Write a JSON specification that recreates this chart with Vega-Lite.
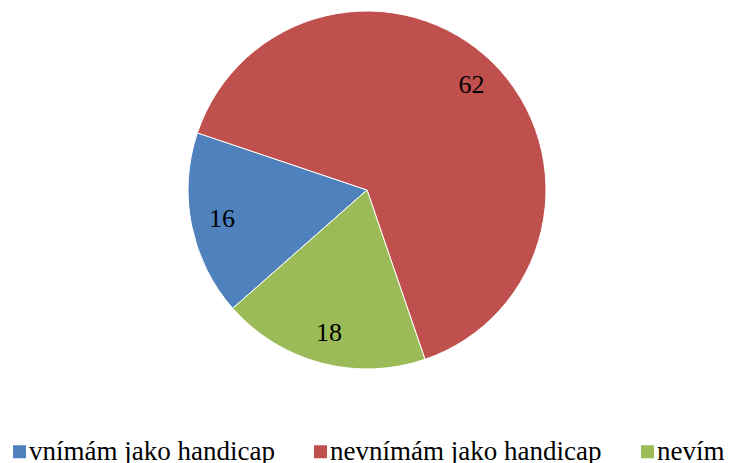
{
  "$schema": "https://vega.github.io/schema/vega-lite/v6.json",
  "width": 734,
  "height": 380,
  "autosize": "none",
  "padding": {"left": 0, "top": 0, "right": 0, "bottom": 83},
  "background": "white",
  "config": {"font": "Liberation Serif", "legend": {"labelFont": "Liberation Serif"}},
  "view": {"stroke": null},
  "data": {
    "values": [
      {"category": "vnímám jako handicap", "value": 16, "order": 1},
      {"category": "nevnímám jako handicap", "value": 62, "order": 2},
      {"category": "nevím", "value": 18, "order": 3}
    ]
  },
  "encoding": {
    "theta": {"field": "value", "type": "quantitative", "stack": true,
      "scale": {"range": [3.99, 10.273]}},
    "order": {"field": "order", "type": "quantitative"},
    "color": {
      "field": "category", "type": "nominal",
      "scale": {
        "domain": ["vnímám jako handicap", "nevnímám jako handicap", "nevím"],
        "range": ["#4F81BD", "#C0504D", "#9BBB59"]
      },
      "legend": {
        "title": null,
        "orient": "none",
        "legendX": 6,
        "legendY": 438,
        "direction": "horizontal",
        "columns": 3,
        "columnPadding": 32,
        "padding": 0,
        "symbolType": "square",
        "symbolSize": 169,
        "symbolStrokeWidth": 0,
        "symbolOpacity": 1,
        "symbolOffset": 0,
        "labelOffset": -4,
        "labelFont": "Liberation Serif",
        "labelFontSize": 27,
        "labelColor": "#000000",
        "labelLimit": 400
      }
    }
  },
  "layer": [
    {"mark": {"type": "arc", "outerRadius": 179, "stroke": "white", "strokeWidth": 1}},
    {
      "mark": {"type": "text", "radius": 148, "font": "Liberation Serif", "fontSize": 26, "color": "#000000"},
      "encoding": {
        "text": {"field": "value", "type": "quantitative"},
        "color": {"value": "#000000"}
      }
    }
  ]
}
